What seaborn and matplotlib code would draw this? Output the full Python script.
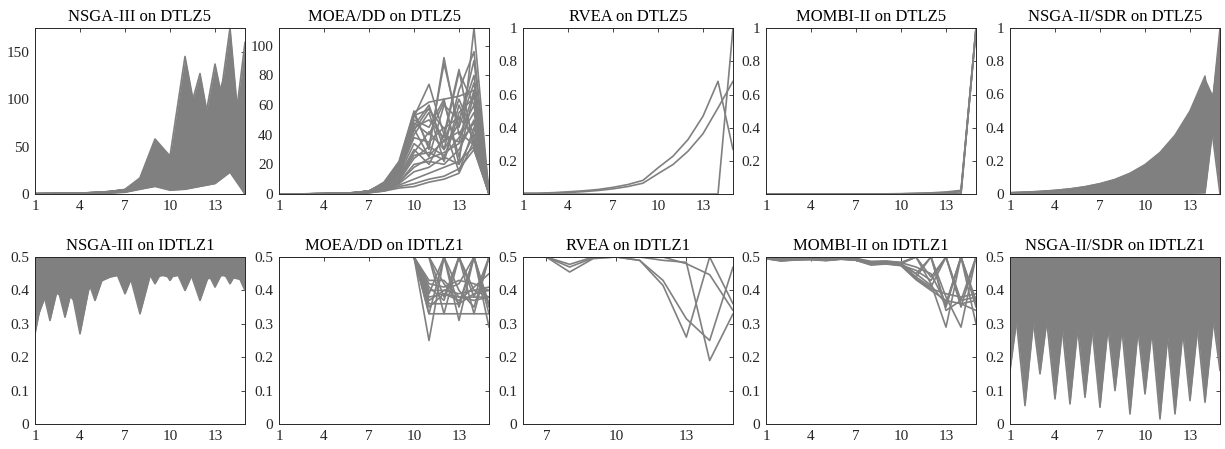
import numpy as np
import pandas as pd
import matplotlib
matplotlib.use("Agg")
import matplotlib.pyplot as plt
from matplotlib.ticker import FormatStrFormatter
import seaborn as sns

# objective indices on the horizontal axis
objectives = [1, 2, 3, 4, 5, 6, 7, 8, 9, 10, 11, 12, 13, 14, 15]

algorithms = ["NSGA-III", "MOEA/DD", "RVEA", "MOMBI-II", "NSGA-II/SDR"]
problems = ["DTLZ5", "IDTLZ1"]

# ---- final populations on DTLZ5 (15 objectives) ----
nsga3_dtlz5 = [
    [0.3, 0.4, 0.6, 1.0, 1.6, 2.7, 4.8, 17, 58, 40, 145, 60, 80, 50, 0],
    [0.3, 0.4, 0.6, 1.0, 1.5, 2.6, 4.6, 16, 55, 38, 70, 127, 40, 90, 0],
    [0.3, 0.4, 0.6, 1.0, 1.5, 2.5, 4.5, 15, 52, 36, 90, 50, 137, 60, 0],
    [0.3, 0.4, 0.6, 0.9, 1.5, 2.5, 4.4, 15, 50, 35, 60, 90, 60, 175, 0],
    [0.3, 0.4, 0.5, 0.9, 1.4, 2.4, 4.2, 14, 45, 30, 50, 70, 100, 30, 160],
    [0.3, 0.4, 0.5, 0.9, 1.4, 2.3, 4.0, 13, 38, 28, 110, 80, 95, 140, 0],
    [0.2, 0.3, 0.5, 0.8, 1.3, 2.2, 3.8, 12, 35, 25, 40, 100, 55, 80, 20],
    [0.2, 0.3, 0.5, 0.8, 1.2, 2.0, 3.5, 10, 28, 20, 30, 45, 70, 100, 0],
    [0.2, 0.3, 0.4, 0.7, 1.1, 1.8, 3.2, 9, 22, 15, 25, 35, 50, 60, 130],
    [0.2, 0.3, 0.4, 0.6, 1.0, 1.6, 2.8, 8, 18, 12, 20, 25, 30, 45, 0],
    [0.1, 0.2, 0.3, 0.5, 0.8, 1.3, 2.3, 6, 12, 6, 8, 10, 15, 30, 0],
    [0.1, 0.2, 0.3, 0.4, 0.6, 1.0, 1.8, 5, 8, 4, 5, 8, 11, 23, 0],
    [0.3, 0.4, 0.5, 0.9, 1.4, 2.3, 4.0, 11, 30, 22, 120, 60, 110, 70, 5],
    [0.3, 0.4, 0.5, 0.9, 1.4, 2.4, 4.1, 12, 32, 26, 80, 110, 30, 150, 0],
    [0.2, 0.3, 0.4, 0.7, 1.1, 1.8, 3.0, 7, 15, 10, 15, 20, 22, 25, 110],
    [0.3, 0.4, 0.6, 1.0, 1.5, 2.5, 4.3, 13, 42, 33, 100, 40, 120, 30, 0],
]

moead_dtlz5 = [
    [0.05, 0.08, 0.12, 0.2, 0.4, 0.9, 2.0, 8, 22, 56, 30, 92, 40, 60, 0.5],
    [0.05, 0.08, 0.12, 0.2, 0.4, 0.9, 2.0, 7, 20, 52, 74, 40, 84, 30, 0.5],
    [0.05, 0.08, 0.12, 0.2, 0.4, 0.9, 2.0, 7, 19, 50, 45, 64, 20, 112, 0],
    [0.05, 0.08, 0.12, 0.2, 0.4, 0.8, 1.9, 6, 17, 46, 60, 30, 70, 96, 0],
    [0.05, 0.08, 0.12, 0.2, 0.4, 0.8, 1.9, 6, 16, 44, 25, 60, 50, 80, 0],
    [0.05, 0.08, 0.11, 0.2, 0.4, 0.8, 1.8, 5, 15, 40, 55, 22, 55, 65, 0],
    [0.04, 0.07, 0.11, 0.2, 0.4, 0.8, 1.8, 5, 14, 38, 35, 45, 15, 45, 0],
    [0.04, 0.07, 0.10, 0.2, 0.3, 0.7, 1.6, 4, 12, 30, 20, 40, 35, 70, 0],
    [0.04, 0.07, 0.10, 0.2, 0.3, 0.7, 1.5, 4, 10, 26, 28, 23, 60, 35, 0],
    [0.03, 0.06, 0.09, 0.1, 0.3, 0.6, 1.3, 3, 8, 20, 22, 20, 30, 50, 0],
    [0.03, 0.05, 0.08, 0.1, 0.3, 0.5, 1.1, 3, 7, 15, 18, 25, 20, 40, 0],
    [0.02, 0.04, 0.07, 0.1, 0.2, 0.5, 1.0, 2.5, 6, 10, 14, 18, 22, 32, 0],
    [0.02, 0.04, 0.06, 0.1, 0.2, 0.4, 0.9, 2, 5, 7, 10, 12, 17, 30, 0],
    [0.02, 0.03, 0.05, 0.1, 0.2, 0.4, 0.8, 2, 4, 5, 8, 10, 14, 36, 0],
    [0.05, 0.08, 0.12, 0.2, 0.4, 0.8, 1.9, 6, 18, 48, 40, 62, 25, 68, 0],
    [0.05, 0.08, 0.11, 0.2, 0.4, 0.8, 1.8, 5, 16, 43, 58, 35, 64, 40, 0],
    [0.05, 0.08, 0.12, 0.2, 0.4, 0.9, 2.0, 7, 20, 54, 32, 88, 45, 75, 0],
    [0.05, 0.08, 0.12, 0.2, 0.4, 0.8, 1.9, 6, 17, 45, 50, 38, 82, 60, 0],
    [0.04, 0.07, 0.10, 0.2, 0.3, 0.7, 1.6, 4, 11, 28, 42, 30, 48, 90, 0],
    [0.03, 0.06, 0.09, 0.1, 0.3, 0.6, 1.4, 3, 9, 24, 32, 26, 38, 55, 0],
    [0.05, 0.08, 0.12, 0.2, 0.4, 0.9, 2.0, 7, 21, 55, 62, 64, 66, 70, 0],
    [0.05, 0.08, 0.12, 0.2, 0.4, 0.9, 2.0, 7, 20, 53, 57, 44, 52, 38, 0],
    [0.04, 0.07, 0.11, 0.2, 0.4, 0.8, 1.8, 5, 13, 34, 26, 36, 42, 33, 0],
    [0.03, 0.06, 0.09, 0.1, 0.3, 0.6, 1.3, 3, 8, 18, 24, 28, 34, 48, 0],
]

rvea_dtlz5 = [
    [0.008, 0.008, 0.011, 0.016, 0.022, 0.030, 0.043, 0.060, 0.085, 0.16, 0.23, 0.33, 0.47, 0.68, 0.27],
    [0.006, 0.006, 0.009, 0.012, 0.017, 0.024, 0.034, 0.048, 0.068, 0.125, 0.18, 0.26, 0.365, 0.52, 0.68],
    [0.003, 0.003, 0.003, 0.003, 0.003, 0.003, 0.003, 0.003, 0.003, 0.003, 0.003, 0.003, 0.003, 0.003, 1.0],
]

mombi_dtlz5 = [
    [0.003, 0.003, 0.003, 0.003, 0.003, 0.003, 0.003, 0.003, 0.004, 0.005, 0.007, 0.010, 0.015, 0.025, 1.0],
    [0.003, 0.003, 0.003, 0.003, 0.003, 0.003, 0.003, 0.003, 0.003, 0.004, 0.006, 0.008, 0.012, 0.020, 0.99],
    [0.003, 0.003, 0.003, 0.003, 0.003, 0.003, 0.003, 0.003, 0.003, 0.003, 0.003, 0.003, 0.003, 0.003, 1.0],
    [0.003, 0.003, 0.003, 0.003, 0.003, 0.003, 0.003, 0.003, 0.004, 0.004, 0.005, 0.007, 0.010, 0.016, 0.98],
    [0.003, 0.003, 0.003, 0.003, 0.003, 0.003, 0.003, 0.003, 0.003, 0.003, 0.004, 0.004, 0.005, 0.004, 1.0],
]

sdr_dtlz5 = [
    [0.0078, 0.011, 0.0156, 0.022, 0.031, 0.044, 0.0625, 0.088, 0.125, 0.177, 0.25, 0.354, 0.50, 0.71, 0.0],
    [0.0076, 0.0107, 0.0151, 0.0214, 0.030, 0.043, 0.061, 0.085, 0.121, 0.172, 0.243, 0.343, 0.485, 0.69, 0.49],
    [0.0066, 0.0094, 0.0133, 0.0187, 0.026, 0.037, 0.053, 0.075, 0.106, 0.150, 0.213, 0.300, 0.425, 0.60, 0.55],
    [0.0055, 0.0077, 0.0110, 0.0154, 0.022, 0.031, 0.044, 0.062, 0.088, 0.124, 0.175, 0.248, 0.350, 0.50, 0.62],
    [0.0047, 0.0066, 0.0094, 0.0132, 0.0186, 0.026, 0.0375, 0.053, 0.075, 0.106, 0.150, 0.212, 0.300, 0.426, 0.40],
    [0.0039, 0.0055, 0.0078, 0.0110, 0.0155, 0.022, 0.031, 0.044, 0.0625, 0.088, 0.125, 0.177, 0.250, 0.355, 0.80],
    [0.0023, 0.0033, 0.0047, 0.0066, 0.0093, 0.013, 0.019, 0.026, 0.0375, 0.053, 0.075, 0.106, 0.150, 0.213, 0.90],
    [0.0016, 0.0022, 0.0031, 0.0044, 0.0062, 0.0088, 0.0125, 0.0176, 0.025, 0.035, 0.050, 0.071, 0.100, 0.142, 0.95],
    [0.0010, 0.0014, 0.0020, 0.0029, 0.0040, 0.0057, 0.008, 0.0114, 0.016, 0.023, 0.0325, 0.046, 0.065, 0.092, 1.0],
    [0.0001, 0.0001, 0.0002, 0.0002, 0.0003, 0.0004, 0.0006, 0.0009, 0.0013, 0.0018, 0.0025, 0.0035, 0.005, 0.007, 0.75],
]

# ---- final populations on IDTLZ1 (15 objectives) ----
nsga3_idtlz1 = [
    [0.27, 0.50, 0.45, 0.47, 0.48, 0.49, 0.47, 0.48, 0.46, 0.47, 0.48, 0.47, 0.46, 0.47, 0.45],
    [0.50, 0.31, 0.50, 0.44, 0.46, 0.47, 0.48, 0.46, 0.47, 0.48, 0.46, 0.48, 0.47, 0.46, 0.48],
    [0.48, 0.50, 0.32, 0.50, 0.45, 0.48, 0.46, 0.47, 0.48, 0.46, 0.47, 0.46, 0.48, 0.47, 0.46],
    [0.47, 0.48, 0.50, 0.27, 0.50, 0.46, 0.48, 0.47, 0.46, 0.47, 0.48, 0.47, 0.46, 0.48, 0.47],
    [0.49, 0.47, 0.48, 0.50, 0.37, 0.50, 0.46, 0.48, 0.47, 0.46, 0.47, 0.48, 0.47, 0.46, 0.47],
    [0.46, 0.49, 0.47, 0.46, 0.48, 0.50, 0.39, 0.50, 0.48, 0.47, 0.46, 0.47, 0.48, 0.47, 0.46],
    [0.48, 0.46, 0.49, 0.47, 0.46, 0.48, 0.50, 0.33, 0.50, 0.48, 0.47, 0.46, 0.47, 0.48, 0.47],
    [0.47, 0.48, 0.46, 0.48, 0.47, 0.46, 0.48, 0.50, 0.42, 0.50, 0.46, 0.47, 0.48, 0.46, 0.48],
    [0.49, 0.47, 0.48, 0.47, 0.49, 0.47, 0.46, 0.48, 0.50, 0.43, 0.50, 0.48, 0.46, 0.47, 0.46],
    [0.46, 0.48, 0.47, 0.49, 0.47, 0.48, 0.47, 0.46, 0.47, 0.50, 0.40, 0.50, 0.48, 0.47, 0.48],
    [0.48, 0.47, 0.46, 0.48, 0.46, 0.47, 0.48, 0.47, 0.48, 0.47, 0.50, 0.37, 0.50, 0.46, 0.47],
    [0.47, 0.46, 0.48, 0.47, 0.48, 0.46, 0.47, 0.48, 0.47, 0.48, 0.47, 0.50, 0.41, 0.50, 0.46],
    [0.49, 0.48, 0.47, 0.46, 0.47, 0.48, 0.46, 0.47, 0.48, 0.47, 0.48, 0.47, 0.50, 0.42, 0.50],
    [0.48, 0.47, 0.49, 0.48, 0.46, 0.47, 0.48, 0.46, 0.47, 0.48, 0.47, 0.48, 0.47, 0.50, 0.40],
    [0.30, 0.42, 0.40, 0.35, 0.44, 0.48, 0.50, 0.49, 0.50, 0.50, 0.49, 0.50, 0.49, 0.50, 0.50],
    [0.38, 0.40, 0.38, 0.42, 0.46, 0.50, 0.48, 0.50, 0.49, 0.50, 0.50, 0.49, 0.50, 0.49, 0.50],
    [0.50, 0.50, 0.50, 0.50, 0.50, 0.50, 0.50, 0.50, 0.50, 0.50, 0.50, 0.50, 0.50, 0.50, 0.50],
    [0.35, 0.50, 0.34, 0.50, 0.42, 0.44, 0.45, 0.44, 0.45, 0.44, 0.45, 0.43, 0.44, 0.45, 0.44],
    [0.44, 0.36, 0.50, 0.33, 0.50, 0.46, 0.43, 0.45, 0.44, 0.45, 0.44, 0.45, 0.45, 0.44, 0.43],
]

moead_idtlz1 = [
    [0.5, 0.5, 0.5, 0.5, 0.5, 0.5, 0.5, 0.5, 0.5, 0.5, 0.40, 0.40, 0.39, 0.40, 0.41],
    [0.5, 0.5, 0.5, 0.5, 0.5, 0.5, 0.5, 0.5, 0.5, 0.5, 0.38, 0.39, 0.38, 0.37, 0.38],
    [0.5, 0.5, 0.5, 0.5, 0.5, 0.5, 0.5, 0.5, 0.5, 0.5, 0.42, 0.41, 0.43, 0.42, 0.40],
    [0.5, 0.5, 0.5, 0.5, 0.5, 0.5, 0.5, 0.5, 0.5, 0.5, 0.25, 0.50, 0.35, 0.50, 0.33],
    [0.5, 0.5, 0.5, 0.5, 0.5, 0.5, 0.5, 0.5, 0.5, 0.5, 0.50, 0.33, 0.50, 0.33, 0.50],
    [0.5, 0.5, 0.5, 0.5, 0.5, 0.5, 0.5, 0.5, 0.5, 0.5, 0.33, 0.50, 0.31, 0.50, 0.29],
    [0.5, 0.5, 0.5, 0.5, 0.5, 0.5, 0.5, 0.5, 0.5, 0.5, 0.36, 0.36, 0.36, 0.50, 0.35],
    [0.5, 0.5, 0.5, 0.5, 0.5, 0.5, 0.5, 0.5, 0.5, 0.5, 0.43, 0.43, 0.38, 0.38, 0.50],
    [0.5, 0.5, 0.5, 0.5, 0.5, 0.5, 0.5, 0.5, 0.5, 0.5, 0.33, 0.33, 0.33, 0.33, 0.33],
    [0.5, 0.5, 0.5, 0.5, 0.5, 0.5, 0.5, 0.5, 0.5, 0.5, 0.50, 0.38, 0.50, 0.38, 0.38],
    [0.5, 0.5, 0.5, 0.5, 0.5, 0.5, 0.5, 0.5, 0.5, 0.5, 0.39, 0.50, 0.40, 0.35, 0.50],
    [0.5, 0.5, 0.5, 0.5, 0.5, 0.5, 0.5, 0.5, 0.5, 0.5, 0.37, 0.40, 0.42, 0.50, 0.36],
    [0.5, 0.5, 0.5, 0.5, 0.5, 0.5, 0.5, 0.5, 0.5, 0.5, 0.41, 0.37, 0.50, 0.40, 0.38],
    [0.5, 0.5, 0.5, 0.5, 0.5, 0.5, 0.5, 0.5, 0.5, 0.5, 0.35, 0.39, 0.37, 0.41, 0.45],
    [0.5, 0.5, 0.5, 0.5, 0.5, 0.5, 0.5, 0.5, 0.5, 0.5, 0.50, 0.42, 0.36, 0.39, 0.40],
]

rvea_idtlz1 = [
    [0.5, 0.5, 0.5, 0.5, 0.5, 0.5, 0.5, 0.455, 0.495, 0.5, 0.49, 0.415, 0.26, 0.50, 0.36],
    [0.5, 0.5, 0.5, 0.5, 0.5, 0.5, 0.5, 0.470, 0.497, 0.5, 0.49, 0.430, 0.315, 0.25, 0.47],
    [0.5, 0.5, 0.5, 0.5, 0.5, 0.5, 0.5, 0.478, 0.500, 0.5, 0.50, 0.490, 0.484, 0.19, 0.33],
    [0.5, 0.5, 0.5, 0.5, 0.5, 0.5, 0.5, 0.500, 0.500, 0.5, 0.50, 0.500, 0.480, 0.447, 0.34],
]

mombi_idtlz1 = [
    [0.495, 0.488, 0.491, 0.492, 0.489, 0.493, 0.490, 0.476, 0.479, 0.474, 0.432, 0.400, 0.37, 0.36, 0.37],
    [0.497, 0.490, 0.493, 0.494, 0.491, 0.495, 0.492, 0.479, 0.481, 0.477, 0.440, 0.410, 0.50, 0.35, 0.50],
    [0.499, 0.493, 0.495, 0.496, 0.493, 0.497, 0.494, 0.483, 0.485, 0.480, 0.500, 0.420, 0.29, 0.50, 0.36],
    [0.500, 0.495, 0.497, 0.497, 0.495, 0.498, 0.496, 0.487, 0.488, 0.484, 0.500, 0.500, 0.38, 0.29, 0.50],
    [0.498, 0.491, 0.494, 0.495, 0.492, 0.496, 0.493, 0.481, 0.483, 0.479, 0.450, 0.500, 0.35, 0.50, 0.30],
    [0.496, 0.489, 0.492, 0.493, 0.490, 0.494, 0.491, 0.478, 0.480, 0.476, 0.460, 0.430, 0.50, 0.37, 0.38],
    [0.500, 0.494, 0.496, 0.497, 0.494, 0.498, 0.495, 0.485, 0.487, 0.483, 0.470, 0.450, 0.36, 0.50, 0.35],
    [0.500, 0.500, 0.500, 0.500, 0.500, 0.500, 0.500, 0.500, 0.500, 0.500, 0.500, 0.500, 0.50, 0.50, 0.50],
    [0.497, 0.490, 0.493, 0.494, 0.491, 0.495, 0.492, 0.480, 0.482, 0.478, 0.440, 0.500, 0.34, 0.37, 0.50],
    [0.495, 0.489, 0.492, 0.493, 0.490, 0.494, 0.491, 0.477, 0.480, 0.475, 0.435, 0.405, 0.39, 0.38, 0.39],
    [0.499, 0.492, 0.495, 0.496, 0.493, 0.497, 0.494, 0.484, 0.486, 0.482, 0.500, 0.440, 0.50, 0.36, 0.34],
    [0.498, 0.491, 0.494, 0.495, 0.492, 0.496, 0.493, 0.482, 0.484, 0.480, 0.450, 0.415, 0.36, 0.50, 0.37],
]

sdr_idtlz1 = [
    [0.16, 0.50, 0.45, 0.42, 0.47, 0.44, 0.48, 0.43, 0.46, 0.41, 0.47, 0.44, 0.45, 0.48, 0.43],
    [0.50, 0.055, 0.50, 0.46, 0.43, 0.48, 0.42, 0.47, 0.44, 0.46, 0.43, 0.48, 0.41, 0.45, 0.47],
    [0.44, 0.50, 0.15, 0.50, 0.45, 0.42, 0.47, 0.44, 0.48, 0.43, 0.46, 0.42, 0.47, 0.44, 0.45],
    [0.47, 0.43, 0.50, 0.075, 0.50, 0.46, 0.44, 0.42, 0.45, 0.48, 0.41, 0.46, 0.43, 0.47, 0.44],
    [0.42, 0.46, 0.44, 0.50, 0.06, 0.50, 0.43, 0.47, 0.42, 0.45, 0.48, 0.44, 0.46, 0.42, 0.48],
    [0.45, 0.48, 0.42, 0.46, 0.50, 0.08, 0.50, 0.45, 0.43, 0.47, 0.44, 0.41, 0.48, 0.46, 0.43],
    [0.48, 0.42, 0.47, 0.44, 0.43, 0.50, 0.05, 0.50, 0.46, 0.42, 0.45, 0.47, 0.44, 0.43, 0.46],
    [0.43, 0.47, 0.45, 0.41, 0.46, 0.44, 0.50, 0.10, 0.50, 0.44, 0.42, 0.46, 0.45, 0.48, 0.42],
    [0.46, 0.44, 0.43, 0.48, 0.42, 0.47, 0.45, 0.50, 0.03, 0.50, 0.47, 0.43, 0.42, 0.44, 0.46],
    [0.44, 0.45, 0.48, 0.43, 0.47, 0.42, 0.46, 0.44, 0.50, 0.09, 0.50, 0.45, 0.47, 0.41, 0.44],
    [0.47, 0.41, 0.46, 0.45, 0.44, 0.48, 0.43, 0.42, 0.47, 0.50, 0.015, 0.50, 0.43, 0.46, 0.45],
    [0.42, 0.46, 0.44, 0.47, 0.45, 0.43, 0.48, 0.46, 0.41, 0.44, 0.50, 0.03, 0.50, 0.45, 0.47],
    [0.45, 0.43, 0.47, 0.42, 0.48, 0.45, 0.44, 0.43, 0.46, 0.47, 0.42, 0.50, 0.07, 0.50, 0.44],
    [0.48, 0.44, 0.42, 0.46, 0.43, 0.47, 0.42, 0.48, 0.44, 0.43, 0.46, 0.45, 0.50, 0.065, 0.50],
    [0.43, 0.47, 0.45, 0.44, 0.46, 0.41, 0.47, 0.45, 0.43, 0.48, 0.44, 0.47, 0.42, 0.50, 0.16],
    [0.50, 0.50, 0.50, 0.50, 0.50, 0.50, 0.50, 0.50, 0.50, 0.50, 0.50, 0.50, 0.50, 0.50, 0.50],
]

# panel layout: (data, dense band shading, y limits, y ticks, x limits, x ticks)
panels = [
    [
        (nsga3_dtlz5, True, (0, 175), [0, 50, 100, 150], (1, 15), [1, 4, 7, 10, 13]),
        (moead_dtlz5, False, (0, 112), [0, 20, 40, 60, 80, 100], (1, 15), [1, 4, 7, 10, 13]),
        (rvea_dtlz5, False, (0.003, 1), [0.2, 0.4, 0.6, 0.8, 1], (1, 15), [1, 4, 7, 10, 13]),
        (mombi_dtlz5, False, (0.003, 1), [0.2, 0.4, 0.6, 0.8, 1], (1, 15), [1, 4, 7, 10, 13]),
        (sdr_dtlz5, True, (0, 1), [0, 0.2, 0.4, 0.6, 0.8, 1], (1, 15), [1, 4, 7, 10, 13]),
    ],
    [
        (nsga3_idtlz1, True, (0, 0.5), [0, 0.1, 0.2, 0.3, 0.4, 0.5], (1, 15), [1, 4, 7, 10, 13]),
        (moead_idtlz1, False, (0, 0.5), [0, 0.1, 0.2, 0.3, 0.4, 0.5], (1, 15), [1, 4, 7, 10, 13]),
        (rvea_idtlz1, False, (0, 0.5), [0, 0.1, 0.2, 0.3, 0.4, 0.5], (6, 15), [7, 10, 13]),
        (mombi_idtlz1, False, (0, 0.5), [0, 0.1, 0.2, 0.3, 0.4, 0.5], (1, 15), [1, 4, 7, 10, 13]),
        (sdr_idtlz1, True, (0, 0.5), [0, 0.1, 0.2, 0.3, 0.4, 0.5], (1, 15), [1, 4, 7, 10, 13]),
    ],
]

GRAY = "#808080"
INK = "#262626"

sns.set_style("white")
plt.rcParams["font.family"] = ["Liberation Serif", "DejaVu Serif"]

W, H = 1225, 449
fig = plt.figure(figsize=(W / 100, H / 100), dpi=100)

col_left = [35, 279, 523, 766, 1010]
ax_w = 210
row_top = [28, 257]
ax_h = [166, 167]


def draw_population(ax, lines, shade):
    records = [(k, m, v) for k, ln in enumerate(lines) for m, v in zip(objectives, ln)]
    df = pd.DataFrame(records, columns=["solution", "objective", "value"])
    if shade:
        xs = np.linspace(objectives[0], objectives[-1], 2801)
        ys = np.array([np.interp(xs, objectives, ln) for ln in lines])
        ax.fill_between(xs, ys.min(axis=0), ys.max(axis=0), color=GRAY, lw=0)
    sns.lineplot(data=df, x="objective", y="value", units="solution",
                 estimator=None, color=GRAY, lw=1.2, ax=ax, legend=False)


for r, prob in enumerate(problems):
    for c, alg in enumerate(algorithms):
        lines, shade, ylim, yticks, xlim, xticks = panels[r][c]
        ax = fig.add_axes([col_left[c] / W, 1 - (row_top[r] + ax_h[r]) / H,
                           ax_w / W, ax_h[r] / H])
        draw_population(ax, lines, shade)
        ax.set_xlim(*xlim)
        ax.set_ylim(*ylim)
        ax.set_xticks(xticks)
        ax.set_yticks(yticks)
        ax.yaxis.set_major_formatter(FormatStrFormatter("%g"))
        ax.set_xlabel("")
        ax.set_ylabel("")
        ax.tick_params(direction="in", top=True, right=True, length=3,
                       width=0.6, labelsize=11, colors=INK, pad=4)
        for sp in ax.spines.values():
            sp.set_color(INK)
            sp.set_linewidth(0.7)
        ax.set_title(f"{alg} on {prob}", fontsize=12, color="black", pad=5)

fig.savefig("out.png", dpi=100)
